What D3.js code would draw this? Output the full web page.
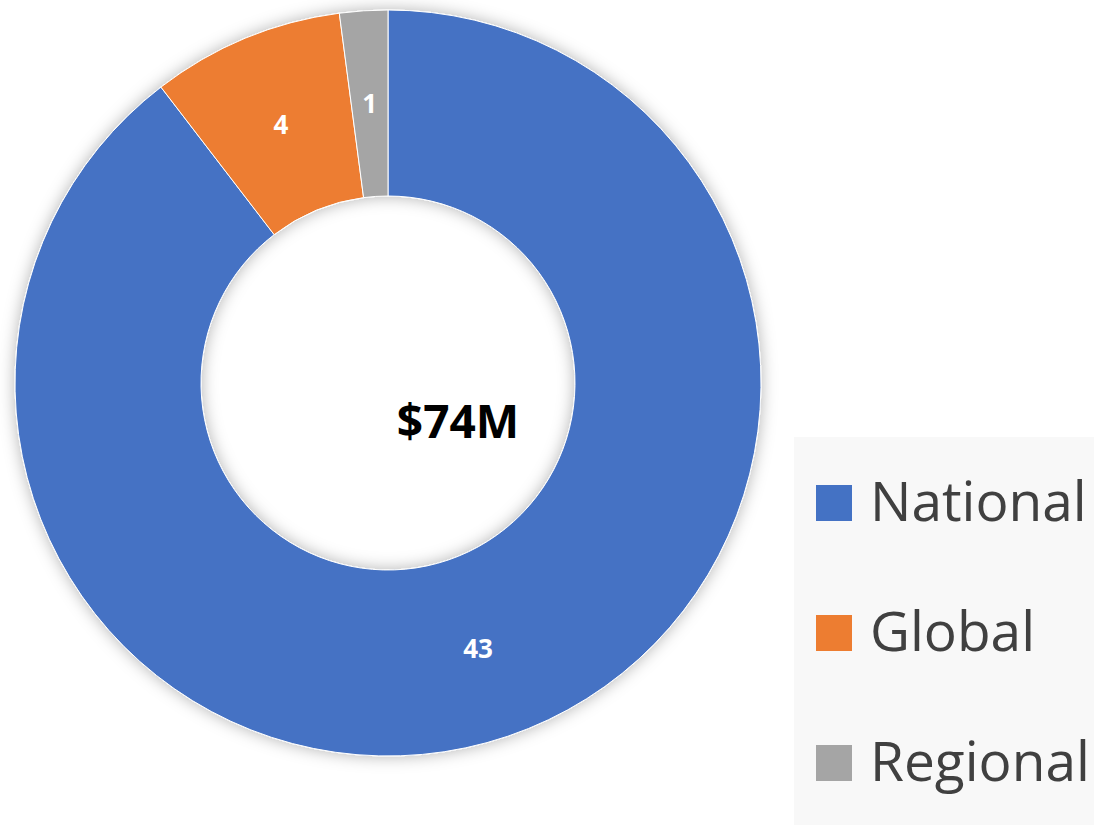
<!DOCTYPE html>
<html lang="en">
  <head>
    <meta charset="UTF-8" />
    <title>Funding donut</title>
    <style>
      body { margin: 0; background: #fff; }
      svg { display: block; font-family: "Open Sans", sans-serif; }
    </style>
  </head>
  <body>
    <div id="chart"></div>

    <script src="https://cdn.jsdelivr.net/npm/d3@7"></script>
    <script>

      var categories = ["National", "Global", "Regional"];
      var values = [43, 4, 1];
      var colors = ["#4472c4", "#ed7d31", "#a5a5a5"];
      var centerLabel = "$74M";

      var w = 1094,
          h = 825;
      var cx = 388, cy = 383;
      var outerR = 373, innerR = 187;

      var svg = d3.select("#chart").append("svg")
                  .attr("width", w)
                  .attr("height", h);

      var defs = svg.append("defs");
      var filter = defs.append("filter")
                       .attr("id", "shadow")
                       .attr("x", "-10%").attr("y", "-10%")
                       .attr("width", "120%").attr("height", "120%");
      filter.append("feDropShadow")
            .attr("dx", 0).attr("dy", 0)
            .attr("stdDeviation", 8)
            .attr("flood-color", "#000")
            .attr("flood-opacity", 0.3);

      var data = categories.map(function(c, i) {
        return { name: c, value: values[i], color: colors[i] };
      });

      var pie = d3.pie()
                  .sort(null)
                  .value(function(d) { return d.value; });
      var arc = d3.arc()
                  .innerRadius(innerR)
                  .outerRadius(outerR);

      var g = svg.append("g")
                 .attr("transform", "translate(" + cx + "," + cy + ")");

      var slices = g.append("g").attr("filter", "url(#shadow)");
      slices.selectAll("path")
            .data(pie(data))
            .enter()
            .append("path")
            .attr("d", arc)
            .attr("fill", function(d) { return d.data.color; })
            .attr("stroke", "#fff")
            .attr("stroke-width", 1);

      g.selectAll(".slice-label")
       .data(pie(data))
       .enter()
       .append("text")
       .attr("class", "slice-label")
       .attr("transform", function(d) { return "translate(" + arc.centroid(d) + ")"; })
       .attr("text-anchor", "middle")
       .attr("dy", "0.36em")
       .attr("fill", "#fff")
       .attr("font-weight", "bold")
       .attr("font-size", 26)
       .text(function(d) { return d.data.value; });

      svg.append("text")
         .attr("x", 458)
         .attr("y", 438)
         .attr("text-anchor", "middle")
         .attr("font-weight", "bold")
         .attr("font-size", 46)
         .attr("fill", "#000")
         .text(centerLabel);

      // legend
      var legend = svg.append("g");
      legend.append("rect")
            .attr("x", 794)
            .attr("y", 437)
            .attr("width", w - 794)
            .attr("height", h - 437)
            .attr("fill", "#f8f8f8");

      var items = legend.selectAll(".item")
                        .data(data)
                        .enter()
                        .append("g")
                        .attr("class", "item")
                        .attr("transform", function(d, i) { return "translate(816," + (485 + i * 130) + ")"; });
      items.append("rect")
           .attr("width", 36)
           .attr("height", 36)
           .attr("fill", function(d) { return d.color; });
      items.append("text")
           .attr("x", 54)
           .attr("y", 36)
           .attr("font-size", 55)
           .attr("fill", "#404040")
           .text(function(d) { return d.name; });

    </script>
  </body>
</html>
